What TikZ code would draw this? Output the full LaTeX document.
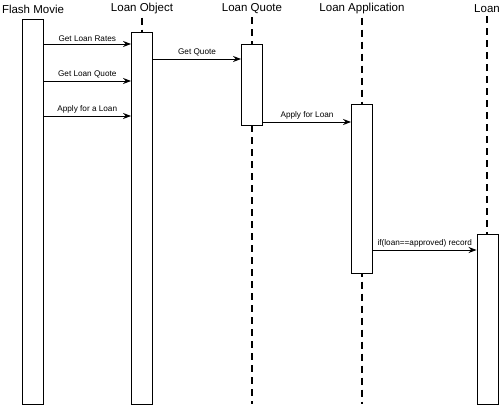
\documentclass[tikz,border=0pt]{standalone}
\usepackage{fontspec}
\setmainfont{Liberation Sans}
\usetikzlibrary{arrows.meta,positioning,calc}

\begin{document}
\begin{tikzpicture}[x=1pt,y=-1pt,
  title/.style={font=\fontsize{11.5}{13}\selectfont,inner sep=0pt,anchor=center},
  act/.style={rectangle,draw,fill=white,line width=0.9pt,minimum width=21pt,inner sep=0pt,anchor=north},
  life/.style={dashed,line width=1.2pt,dash pattern=on 7pt off 5pt},
  msg/.style={-{Stealth[length=8pt,width=6pt]},line width=0.9pt},
  lbl/.style={font=\fontsize{8.2}{9}\selectfont,above,inner sep=2pt}]
\useasboundingbox (0,0) rectangle (500,406);
% lifeline heads
\node[title] (fm) at (33,9) {Flash Movie};
\node[title] (lo) at (142,9) {Loan Object};
\node[title] (lq) at (252,9) {Loan Quote};
\node[title] (la) at (362,9) {Loan Application};
\node[title] (ln) at (487,9) {Loan};
% lifelines
\coordinate (lqend) at (252,404);
\coordinate (laend) at (362,404);
\draw[life] (lo.south) ++(0,3) -- (142,32);
\draw[life] (lq.south) ++(0,3) -- (lqend);
\draw[life] (la.south) ++(0,3) -- (laend);
\draw[life] (ln.south) ++(0,3) -- (487,234);
% activations
\node[act,minimum height=385pt] (fmbox) at (32.5,19) {};
\node[act,minimum height=372pt] (lobox) at (142,32) {};
\node[act,minimum height=81pt] (lqbox) at (252,44) {};
\node[act,minimum height=169pt] (labox) at (362,104) {};
\node[act,minimum height=170pt] (lnbox) at (487.5,234) {};
% messages
\draw[msg] (fmbox.east |- 0,44) -- (lobox.west |- 0,44) node[lbl,midway] {Get Loan Rates};
\draw[msg] (fmbox.east |- 0,81) -- (lobox.west |- 0,81) node[lbl,midway] {Get Loan Quote};
\draw[msg] (fmbox.east |- 0,116) -- (lobox.west |- 0,116) node[lbl,midway] {Apply for a Loan};
\draw[msg] (lobox.east |- 0,59) -- (lqbox.west |- 0,59) node[lbl,midway] {Get Quote};
\draw[msg] (lqbox.east |- 0,122) -- (labox.west |- 0,122) node[lbl,midway] {Apply for Loan};
\draw[msg] (labox.east |- 0,250) -- (lnbox.west |- 0,250) node[lbl,midway] {if(loan==approved) record};
\end{tikzpicture}
\end{document}
